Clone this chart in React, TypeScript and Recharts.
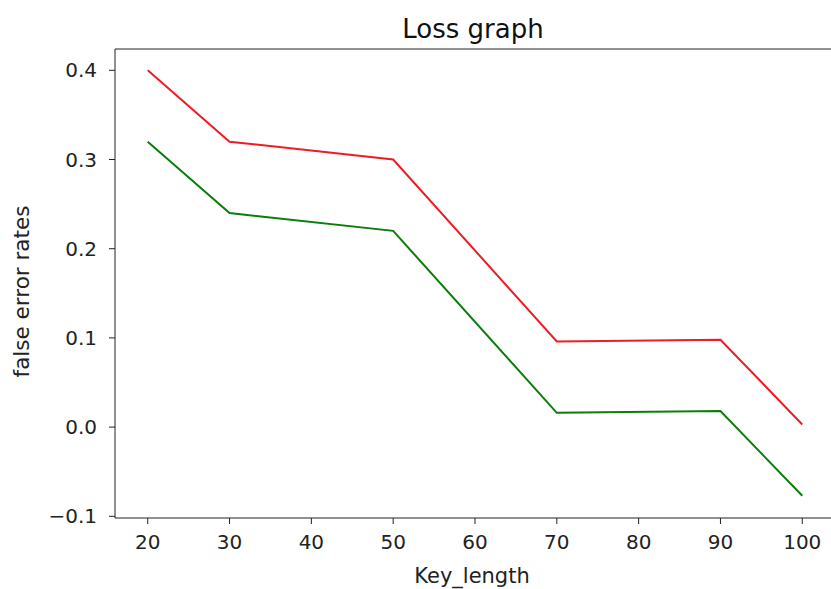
import React from 'react';
import { LineChart, Line, XAxis, YAxis, ReferenceLine } from 'recharts';

const keyLengths = [20, 30, 50, 70, 90, 100];
const redSeries = [0.4, 0.32, 0.3, 0.096, 0.098, 0.003];
const greenSeries = [0.32, 0.24, 0.22, 0.016, 0.018, -0.077];
const xTicks = [20, 30, 40, 50, 60, 70, 80, 90, 100];
const yTicks = [-0.1, 0.0, 0.1, 0.2, 0.3, 0.4];

const data = keyLengths.map((k, i) => ({ k, red: redSeries[i], green: greenSeries[i] }));

const FONT = '"DejaVu Sans", Verdana, sans-serif';
const Y_MIN = -0.1019;
const Y_MAX = 0.4239;

const fmtY = (v: number) => (v < 0 ? '\u2212' + Math.abs(v).toFixed(1) : v.toFixed(1));

export default function App() {
  return (
    <div style={{ position: 'absolute', left: 0, top: 0, width: 831, height: 589, background: '#fff', fontFamily: FONT }}>
      <div
        style={{
          position: 'absolute',
          left: 113,
          width: 720,
          top: 14,
          textAlign: 'center',
          fontSize: 26,
          color: '#111',
          fontFamily: FONT,
          lineHeight: '30px',
        }}
      >
        Loss graph
      </div>
      <LineChart width={831} height={589} data={data} margin={{ top: 49, right: -4, bottom: 0, left: 0 }}>
        <XAxis
          dataKey="k"
          type="number"
          domain={[16, 104]}
          ticks={xTicks}
          allowDataOverflow
          height={71}
          tickSize={6}
          tickMargin={11}
          stroke="#222"
          tick={{ fill: '#222', fontSize: 20, fontFamily: FONT }}
          tickLine={{ stroke: '#222' }}
          label={{ value: 'Key_length', position: 'insideBottom', offset: 6, dx: -3, style: { fill: '#222', fontSize: 21, fontFamily: FONT } }}
        />
        <YAxis
          type="number"
          domain={[Y_MIN, Y_MAX]}
          ticks={yTicks}
          allowDataOverflow
          width={115}
          tickSize={6}
          tickMargin={12}
          stroke="#222"
          tickFormatter={fmtY}
          tick={{ fill: '#222', fontSize: 20, fontFamily: FONT }}
          tickLine={{ stroke: '#222' }}
          label={{ value: 'false error rates', angle: -90, position: 'center', dx: -36, dy: 8, style: { fill: '#222', fontSize: 21.5, fontFamily: FONT, textAnchor: 'middle' } }}
        />
        <ReferenceLine y={Y_MAX} stroke="#222" strokeWidth={1} />
        <Line type="linear" dataKey="red" stroke="#ee1c25" strokeWidth={2} dot={false} isAnimationActive={false} />
        <Line type="linear" dataKey="green" stroke="#0a7d0a" strokeWidth={2} dot={false} isAnimationActive={false} />
      </LineChart>
    </div>
  );
}
